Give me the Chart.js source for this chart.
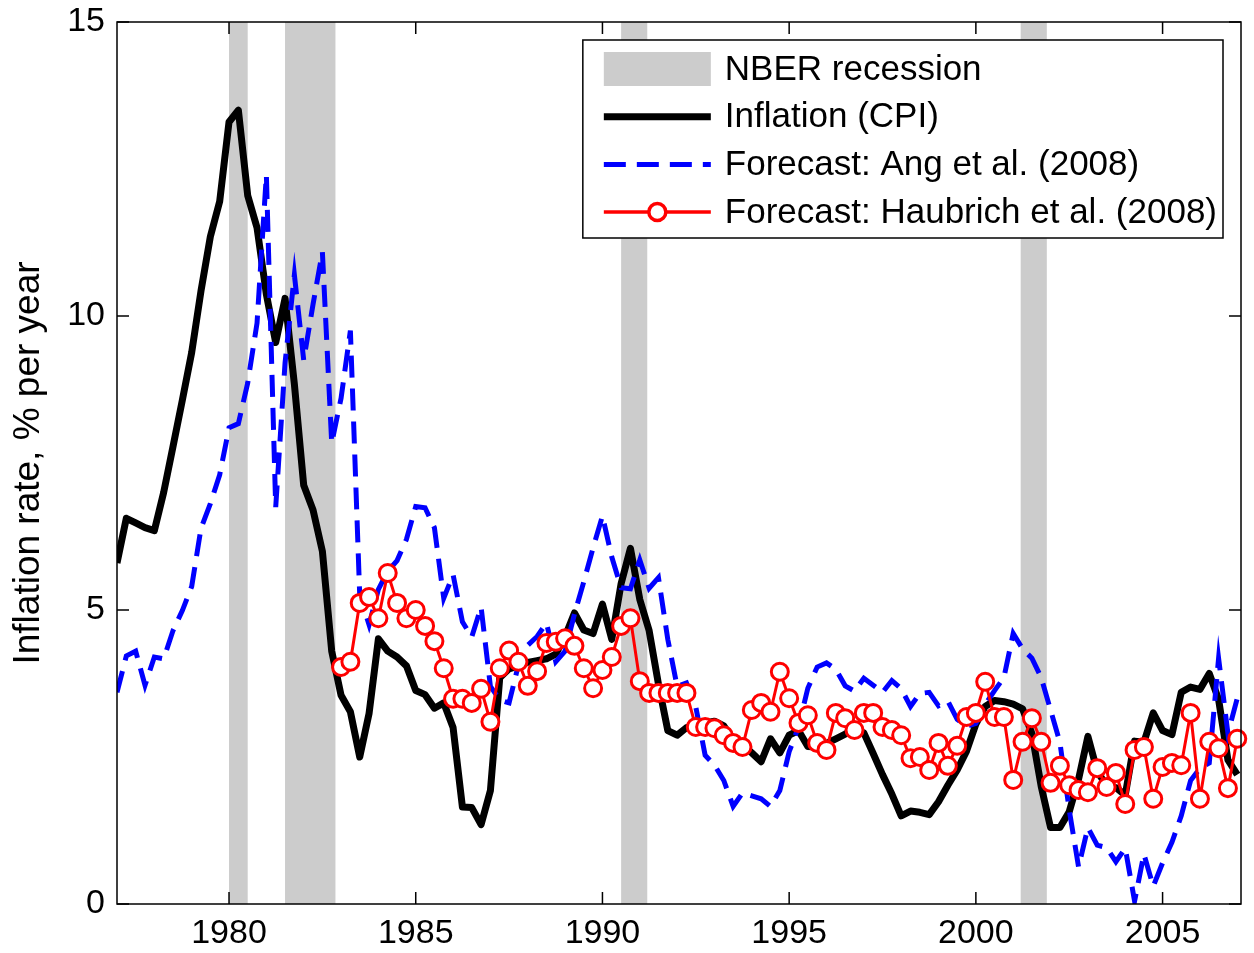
<!DOCTYPE html>
<html>
<head>
<meta charset="utf-8">
<title>Inflation and inflation forecasts</title>
<script src="https://cdn.jsdelivr.net/npm/chart.js@4.4.0/dist/chart.umd.min.js"></script>
<style>
  html, body { margin: 0; padding: 0; background: #fff; }
</style>
</head>
<body>
<canvas id="chart" width="1254" height="953"></canvas>
<script>
// quarterly observations, first one in 1977Q1
const firstYear = 1977;

// Inflation (CPI), % per year, 1977.00 .. 2007.00
const cpi = [
  5.8, 6.56, 6.48, 6.4, 6.35, 7.0, 7.78, 8.57, 9.38, 10.43,
  11.35, 11.95, 13.3, 13.5, 12.05, 11.5, 10.37, 9.55, 10.3, 8.84,
  7.12, 6.7, 6.0, 4.3, 3.55, 3.27, 2.5, 3.24, 4.51, 4.3,
  4.2, 4.05, 3.63, 3.56, 3.33, 3.42, 3.0, 1.65, 1.64, 1.35,
  1.93, 3.85, 4.0, 4.05, 4.11, 4.14, 4.17, 4.25, 4.55, 4.95,
  4.66, 4.6, 5.1, 4.5, 5.45, 6.05, 5.18, 4.65, 3.74, 2.95,
  2.87, 3.0, 3.04, 3.08, 3.11, 3.03, 2.79, 2.71, 2.57, 2.42,
  2.81, 2.57, 2.87, 2.95, 2.68, 2.67, 2.73, 2.81, 2.89, 2.96,
  2.91, 2.56, 2.2, 1.87, 1.5, 1.58, 1.56, 1.52, 1.74, 2.02,
  2.28, 2.6, 3.06, 3.36, 3.46, 3.44, 3.4, 3.32, 2.9, 2.0,
  1.3, 1.3, 1.57, 2.12, 2.85, 2.26, 2.01, 1.98, 1.85, 2.77,
  2.75, 3.25, 2.95, 2.88, 3.6, 3.69, 3.65, 3.92, 3.48, 2.45,
  2.2
];

// Forecast: Ang et al. (2008), same dates
const ang = [
  3.6, 4.22, 4.3, 3.72, 4.2, 4.17, 4.65, 4.99, 5.4, 6.39,
  6.81, 7.3, 8.1, 8.17, 8.86, 9.88, 12.4, 6.75, 9.2, 10.7,
  9.25, 10.2, 11.09, 7.84, 8.6, 9.75, 5.25, 4.75, 5.35, 5.66,
  5.84, 6.2, 6.76, 6.74, 6.4, 5.2, 5.6, 4.8, 4.54, 5.05,
  3.7, 3.47, 3.42, 4.07, 4.4, 4.55, 4.78, 4.12, 4.3, 4.93,
  5.48, 6.06, 6.6, 5.9, 5.38, 5.36, 5.85, 5.37, 5.55, 4.5,
  3.7, 3.76, 3.35, 2.53, 2.36, 2.1, 1.66, 1.89, 1.84, 1.79,
  1.66, 1.93, 2.59, 3.01, 3.67, 4.03, 4.1, 3.99, 3.71, 3.62,
  3.84, 3.72, 3.6, 3.8, 3.66, 3.36, 3.58, 3.6, 3.37, 3.45,
  3.14, 3.02, 3.07, 3.39, 3.63, 3.85, 4.6, 4.34, 4.18, 3.85,
  3.3, 2.75, 1.6, 0.63, 1.3, 1.0, 0.96, 0.72, 0.95, 0.05,
  0.85, 0.3, 0.7, 1.05, 1.5, 2.1, 2.31, 2.4, 4.18, 2.9,
  3.5
];

// Forecast: Haubrich et al. (2008), starts 1983Q1
const haubrichStart = 1983;
const haubrich = [
  4.03, 4.12, 5.12, 5.22, 4.86, 5.63, 5.12, 4.86, 5.0, 4.73,
  4.47, 4.01, 3.49, 3.49, 3.42, 3.66, 3.1, 4.01, 4.31, 4.12,
  3.71, 3.96, 4.44, 4.46, 4.52, 4.39, 4.01, 3.67, 3.98, 4.2,
  4.73, 4.86, 3.79, 3.59, 3.59, 3.59, 3.59, 3.59, 3.01, 3.01,
  2.99, 2.87, 2.74, 2.67, 3.3, 3.42, 3.27, 3.95, 3.5, 3.08,
  3.21, 2.74, 2.62, 3.25, 3.16, 2.96, 3.25, 3.25, 3.01, 2.96,
  2.87, 2.48, 2.5, 2.28, 2.74, 2.35, 2.69, 3.18, 3.25, 3.78,
  3.18, 3.18, 2.11, 2.76, 3.16, 2.76, 2.06, 2.35, 2.02, 1.94,
  1.9, 2.31, 1.99, 2.23, 1.7, 2.62, 2.67, 1.79, 2.33, 2.4,
  2.36, 3.25, 1.79, 2.76, 2.65, 1.97, 2.81
];

// NBER recessions (start, end) in decimal years
const recessionStart = [1980.0, 1981.5, 1990.5, 2001.2];
const recessionEnd = [1980.5, 1982.85, 1991.2, 2001.9];

const xTicks = [1980, 1985, 1990, 1995, 2000, 2005];
const yTicks = [0, 5, 10, 15];

const legendLabels = ['NBER recession', 'Inflation (CPI)', 'Forecast: Ang et al. (2008)', 'Forecast: Haubrich et al. (2008)'];

const FONT_FAMILY = '"Liberation Sans", Arial, Helvetica, sans-serif';
const FONT_SIZE = 34;
const LEGEND_FONT_SIZE = 35;
const TITLE_FONT_SIZE = 37;

function toPoints(start, values) {
  return values.map((v, i) => ({ x: start + i * 0.25, y: v }));
}

// grey bars for the recessions, under the lines
const recessionPlugin = {
  id: 'recessions',
  beforeDatasetsDraw(chart) {
    const { ctx, chartArea: a, scales: { x } } = chart;
    ctx.save();
    ctx.fillStyle = '#cccccc';
    recessionStart.forEach((s, i) => {
      const x0 = x.getPixelForValue(s);
      const x1 = x.getPixelForValue(recessionEnd[i]);
      ctx.fillRect(x0, a.top, x1 - x0, a.bottom - a.top);
    });
    ctx.restore();
  }
};

// box round the plot with inward tick marks on all four sides
const framePlugin = {
  id: 'frame',
  afterDatasetsDraw(chart) {
    const { ctx, chartArea: a, scales: { x, y } } = chart;
    const len = 12;
    ctx.save();
    ctx.strokeStyle = '#000';
    ctx.lineWidth = 1.5;
    ctx.strokeRect(a.left, a.top, a.right - a.left, a.bottom - a.top);
    ctx.beginPath();
    xTicks.forEach(v => {
      const px = x.getPixelForValue(v);
      ctx.moveTo(px, a.bottom); ctx.lineTo(px, a.bottom - len);
      ctx.moveTo(px, a.top); ctx.lineTo(px, a.top + len);
    });
    yTicks.forEach(v => {
      const py = y.getPixelForValue(v);
      ctx.moveTo(a.left, py); ctx.lineTo(a.left + len, py);
      ctx.moveTo(a.right, py); ctx.lineTo(a.right - len, py);
    });
    ctx.stroke();
    ctx.restore();
  }
};

// legend box in the upper right corner
const legendPlugin = {
  id: 'boxLegend',
  afterDraw(chart) {
    const { ctx, chartArea: a } = chart;
    ctx.save();
    ctx.font = LEGEND_FONT_SIZE + 'px ' + FONT_FAMILY;
    const textW = Math.max(...legendLabels.map(t => ctx.measureText(t).width));
    const right = a.right - 18;
    const top = a.top + 18;
    const left = right - textW - 148;
    const h = 198;
    ctx.fillStyle = '#fff';
    ctx.fillRect(left, top, right - left, h);
    ctx.strokeStyle = '#000';
    ctx.lineWidth = 1.5;
    ctx.strokeRect(left, top, right - left, h);

    const rowY = i => top + 29 + i * 47.7;
    const s0 = left + 21, s1 = left + 128;

    // recession patch
    ctx.fillStyle = '#cccccc';
    ctx.fillRect(s0, rowY(0) - 17, s1 - s0, 34);

    // CPI
    ctx.strokeStyle = '#000';
    ctx.lineWidth = 7;
    ctx.beginPath(); ctx.moveTo(s0, rowY(1)); ctx.lineTo(s1, rowY(1)); ctx.stroke();

    // Ang
    ctx.strokeStyle = '#0000ff';
    ctx.lineWidth = 5;
    ctx.setLineDash([22, 11]);
    ctx.beginPath(); ctx.moveTo(s0, rowY(2)); ctx.lineTo(s1, rowY(2)); ctx.stroke();
    ctx.setLineDash([]);

    // Haubrich
    ctx.strokeStyle = '#ff0000';
    ctx.lineWidth = 3.5;
    ctx.beginPath(); ctx.moveTo(s0, rowY(3)); ctx.lineTo(s1, rowY(3)); ctx.stroke();
    ctx.beginPath();
    ctx.arc((s0 + s1) / 2, rowY(3), 8.5, 0, Math.PI * 2);
    ctx.fillStyle = '#fff';
    ctx.fill();
    ctx.stroke();

    ctx.fillStyle = '#000';
    ctx.textAlign = 'left';
    ctx.textBaseline = 'middle';
    legendLabels.forEach((t, i) => ctx.fillText(t, left + 142, rowY(i) + 1));
    ctx.restore();
  }
};

const tickFont = { family: FONT_FAMILY, size: FONT_SIZE };

// keep the plot box where the reference has it
function noOverhang(s) {
  s.paddingTop = 0;
  s.paddingBottom = 0;
  s.paddingLeft = 0;
  s.paddingRight = 0;
}

new Chart(document.getElementById('chart'), {
  type: 'line',
  data: {
    datasets: [
      {
        label: legendLabels[3],
        data: toPoints(haubrichStart, haubrich),
        borderColor: '#ff0000',
        borderWidth: 3,
        pointRadius: 8.5,
        pointBorderWidth: 3,
        pointBackgroundColor: '#ffffff',
        pointBorderColor: '#ff0000',
        tension: 0,
        order: 0,
        clip: false
      },
      {
        label: legendLabels[2],
        data: toPoints(firstYear, ang),
        borderColor: '#0000ff',
        borderWidth: 5,
        borderDash: [22, 11],
        pointRadius: 0,
        tension: 0,
        order: 1
      },
      {
        label: legendLabels[1],
        data: toPoints(firstYear, cpi),
        borderColor: '#000000',
        borderWidth: 7,
        borderJoinStyle: 'round',
        pointRadius: 0,
        tension: 0,
        order: 2
      }
    ]
  },
  options: {
    responsive: false,
    animation: false,
    events: [],
    layout: { padding: { top: 22, right: 13, left: 0, bottom: 0 } },
    plugins: {
      legend: { display: false },
      tooltip: { enabled: false }
    },
    scales: {
      x: {
        type: 'linear',
        min: 1977,
        max: 2007.1,
        grid: { display: false, drawTicks: false },
        border: { display: false },
        ticks: { font: tickFont, color: '#000', padding: 9, maxRotation: 0, callback: v => String(v) },
        afterBuildTicks: s => { s.ticks = xTicks.map(v => ({ value: v })); },
        afterFit: s => { s.height = 49; noOverhang(s); }
      },
      y: {
        min: 0,
        max: 15,
        grid: { display: false, drawTicks: false },
        border: { display: false },
        ticks: { font: tickFont, color: '#000', padding: 12, callback: v => String(v) },
        afterBuildTicks: s => { s.ticks = yTicks.map(v => ({ value: v })); },
        title: {
          display: true,
          text: 'Inflation rate, % per year',
          font: { family: FONT_FAMILY, size: TITLE_FONT_SIZE },
          color: '#000',
          padding: { top: 7, bottom: 0 }
        },
        afterFit: s => { s.width = 117; noOverhang(s); }
      }
    }
  },
  plugins: [recessionPlugin, framePlugin, legendPlugin]
});
</script>
</body>
</html>
